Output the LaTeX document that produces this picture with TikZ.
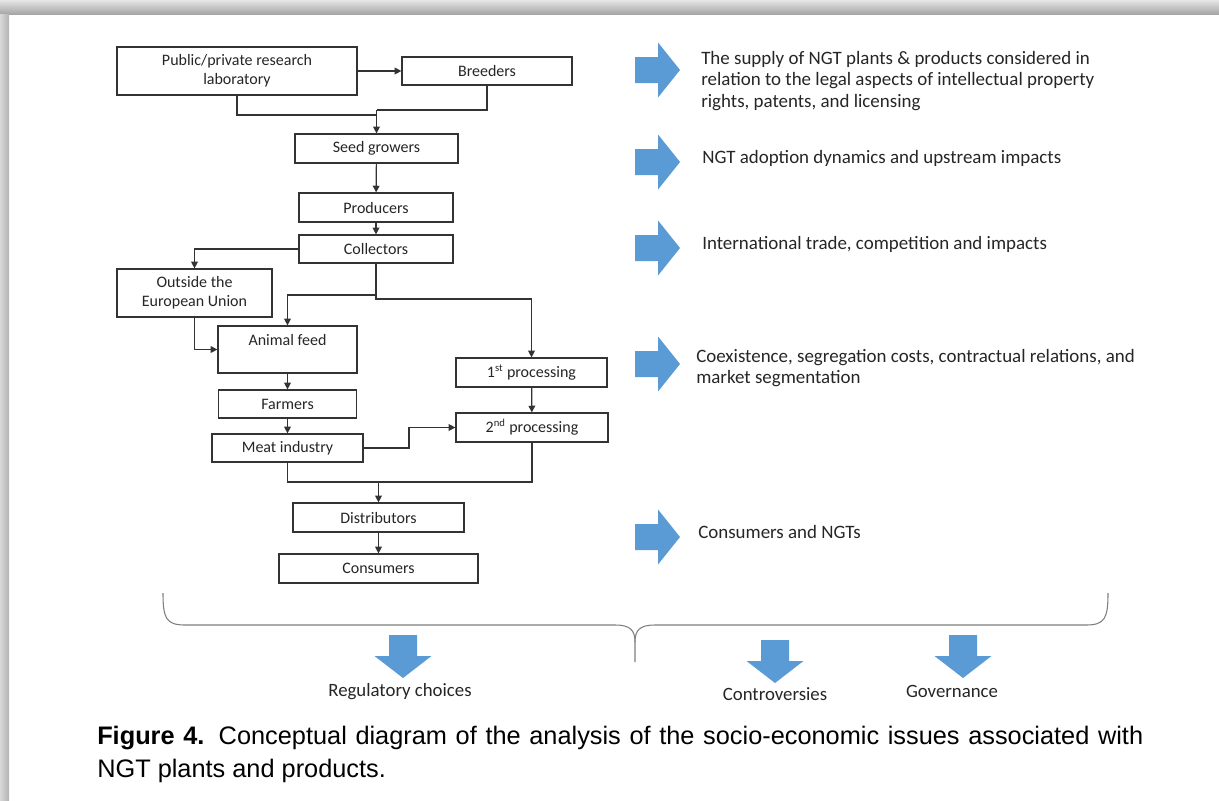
\documentclass[tikz,border=0pt]{standalone}
\usepackage{fontspec}
\setmainfont{Carlito}
\newfontfamily\arialfont{Liberation Sans}
\usetikzlibrary{arrows.meta,calc}
\definecolor{officeblue}{HTML}{5B9BD5}
\definecolor{linegray}{HTML}{333333}
\definecolor{txt}{HTML}{262626}
\definecolor{bracegray}{HTML}{7F7F7F}
\tikzset{
  rarrow/.pic={\fill[officeblue] (-23,-13) -- (0,-13) -- (0,-27.5) -- (22,0) -- (0,27.5) -- (0,13) -- (-23,13) -- cycle;},
  darrow/.pic={\fill[officeblue] (-14,-21) -- (14,-21) -- (14,0) -- (28.5,0) -- (0,22) -- (-28.5,0) -- (-14,0) -- cycle;}
}
\begin{document}
\begin{tikzpicture}[x=0.75pt,y=-0.75pt,
  box/.style={draw=linegray, line width=0.9pt, inner sep=0pt, align=center,
    font=\fontsize{12}{14.5}\selectfont, text=txt},
  wh/.style 2 args={minimum width=#1*0.75pt, minimum height=#2*0.75pt},
  conn/.style={draw=linegray, line width=0.9pt},
  arr/.style={conn, -{Triangle[length=5pt,width=5pt]}},
  note/.style={anchor=west, align=left, inner sep=0pt,
    font=\fontsize{14.2}{16.2}\selectfont, text=txt},
  blab/.style={inner sep=0pt, font=\fontsize{14.1}{16}\selectfont, text=txt}]
\useasboundingbox (0,0) rectangle (1219,800);
\fill[white] (0,0) rectangle (1219,800);
% window shadow
\shade[top color=black!10, bottom color=black!35] (0,0) rectangle (1219,14);
\shade[left color=black!15, right color=black!30] (0,14) rectangle (9,800);

% boxes
\node[box, wh={240}{48}] (lab) at (237,71) {Public/private research\\laboratory};
\node[box, wh={170}{28}] (breed) at (487,71) {Breeders};
\node[box, wh={163}{29}] (seed) at (376.5,148.5) {Seed growers};
\node[box, wh={154}{29}] (prod) at (376,207.5) {Producers};
\node[box, wh={154}{28}] (coll) at (376,249) {Collectors};
\node[box, wh={155}{48}] (out) at (194.5,293) {Outside the\\European Union};
\node[box, wh={139}{47}] (feed) at (287.5,349.5) {Animal feed\\~};
\node[box, wh={151}{29}] (p1) at (531.5,372.5) {1\textsuperscript{st} processing};
\node[box, wh={152}{29}] (p2) at (532,427.5) {2\textsuperscript{nd} processing};
\node[box, wh={138}{28}] (farm) at (287.5,404) {Farmers};
\node[box, wh={151}{28}] (meat) at (287.5,448) {Meat industry};
\node[box, wh={171}{29}] (dist) at (378.5,517.5) {Distributors};
\node[box, wh={199}{29}] (cons) at (378.5,568.5) {Consumers};

% junctions
\coordinate (j1) at (376.5,115);
\coordinate (j1b) at (376.5,110);
\coordinate (j2) at (376,295);
\coordinate (j3) at (376,299);
\coordinate (j4) at (409,448);
\coordinate (j5) at (378.5,482);

% connectors
\draw[arr] (lab) -- (breed);
\draw[conn] (lab.south) |- (j1);
\draw[conn] (breed.south) |- (j1b);
\draw[arr] (j1b) -- (seed.north);
\draw[arr] (seed) -- (prod);
\draw[arr] (prod) -- (coll);
\draw[arr] (coll.west) -| (out.north);
\draw[arr] (coll.south) -- (j2) -| (feed.north);
\draw[arr] (coll.south) -- (j3) -| (p1.north);
\draw[arr] (out.south) |- (feed.west);
\draw[arr] (feed) -- (farm);
\draw[arr] (farm) -- (meat);
\draw[arr] (p1) -- (p2);
\draw[arr] (meat.east) -- (j4) |- (p2.west);
\draw[conn] (meat.south) |- (j5) -| (p2.south);
\draw[arr] (j5) -- (dist.north);
\draw[arr] (dist) -- (cons);

% right-hand arrows and notes
\pic at (658,70) {rarrow};
\pic at (658,162) {rarrow};
\pic at (658,248) {rarrow};
\pic at (658,364) {rarrow};
\pic at (658,537) {rarrow};
\node[note] (n1) at (701,81) {The supply of NGT plants \& products considered in\\relation to the legal aspects of intellectual property\\rights, patents, and licensing};
\node[note] (n2) at (702,158) {NGT adoption dynamics and upstream impacts};
\node[note] (n3) at (702,244) {International trade, competition and impacts};
\node[note] (n4) at (696,368) {Coexistence, segregation costs, contractual relations, and\\market segmentation};
\node[note] (n5) at (698,532) {Consumers and NGTs};

% brace
\draw[bracegray, line width=0.8pt]
  (163,593) .. controls (163,618) and (166,625) .. (185,625) -- (615,625)
  .. controls (630,625) and (635,630) .. (635,642) -- (635,662);
\draw[bracegray, line width=0.8pt]
  (1108,593) .. controls (1108,618) and (1105,625) .. (1086,625) -- (655,625)
  .. controls (640,625) and (635,630) .. (635,642);

% bottom arrows and labels
\pic at (403,656) {darrow};
\pic at (775,661) {darrow};
\pic at (963,656) {darrow};
\node[blab] (reg) at (400,692) {Regulatory choices};
\node[blab] (contr) at (775,694) {Controversies};
\node[blab] (gov) at (952,691) {Governance};

% caption
\node[anchor=north west, inner sep=0pt, text width=1046*0.75pt, align=justify,
  font=\arialfont\fontsize{19}{24.75}\selectfont] (cap) at (97,726)
  {\textbf{Figure 4.} Conceptual diagram of the analysis of the socio-economic issues associated with NGT plants and products.};
\end{tikzpicture}
\end{document}
